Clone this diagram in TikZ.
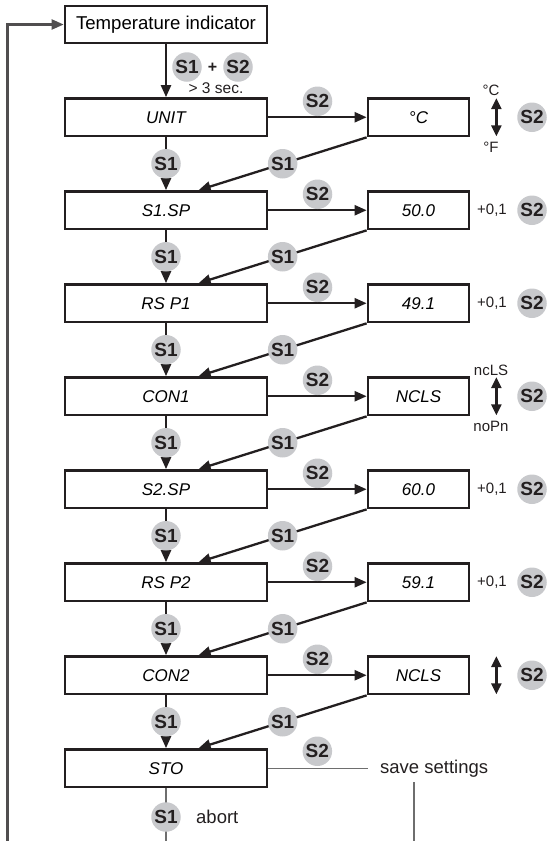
\documentclass[tikz,border=0pt]{standalone}
\usepackage{fontspec}
\setmainfont{Liberation Sans}
\usetikzlibrary{arrows.meta,calc}
\definecolor{ink}{HTML}{231F20}
\definecolor{btn}{HTML}{C8C9CC}
\definecolor{thin}{HTML}{6E6E6E}
\tikzset{
  mainbox/.style={draw=ink,line width=2.7pt,minimum width=202pt,minimum height=37.5pt,inner sep=0pt,
    font=\fontsize{17}{18}\selectfont\itshape},
  rbox/.style={mainbox,minimum width=101pt},
  tempbox/.style={draw=ink,line width=2.7pt,minimum width=202pt,minimum height=37pt,inner sep=0pt,
    font=\fontsize{18.6}{21}\selectfont},
  scirc/.style={circle,fill=btn,minimum size=29.5pt,inner sep=0pt,text=ink,
    font=\fontsize{19}{20}\selectfont\bfseries},
  arr/.style={draw=ink,line width=2.3pt,-{Triangle[length=12pt,width=10pt]}},
  dbl/.style={draw=ink,line width=2.3pt,{Triangle[length=11pt,width=10pt]}-{Triangle[length=11pt,width=10pt]}},
  thinline/.style={draw=thin,line width=1.4pt},
  leftline/.style={draw=thin!60!ink,line width=2.2pt,-{Triangle[length=12pt,width=10pt]}},
  lbl/.style={inner sep=0pt,text=ink,font=\fontsize{15}{17}\selectfont},
  biglbl/.style={inner sep=0pt,text=ink,font=\fontsize{18.5}{20}\selectfont},
}
\begin{document}
\begin{tikzpicture}[x=1pt,y=-1pt]
\useasboundingbox (0,0) rectangle (548,841);
% top indicator
\node[tempbox] (temp) at (166,24.5) {Temperature indicator};
% main column
\foreach \t [count=\i from 0] in {UNIT,S1.SP,RS P1,CON1,S2.SP,RS P2,CON2,STO}
  \node[mainbox] (m\i) at (166,{117.25+93*\i}) {\t};
% right column
\foreach \t [count=\i from 0] in {°C,50.0,49.1,NCLS,60.0,59.1,NCLS}
  \node[rbox] (r\i) at (418.5,{117.25+93*\i}) {\t};
% temp -> UNIT
\draw[arr] (temp) -- (m0);
\node[scirc] (a1) at (187,67) {S1};
\node[scirc] (a2) at (238,67) {S2};
\node[inner sep=0pt,text=ink,font=\fontsize{16}{18}\selectfont\bfseries] (plus) at (212.5,68) {+};
\node[inner sep=0pt,text=ink,font=\fontsize{15.5}{17}\selectfont] (sec) at (216,88) {> 3 sec.};
% vertical S1 arrows, S2 arrows, diagonal S1 returns
\foreach \k [evaluate=\k as \n using int(\k+1)] in {0,...,6} {
  \draw[arr] (m\k) -- (m\n) node[scirc,midway] (v\k) {S1};
  \draw[arr] (m\k) -- (r\k);
  \node[scirc] (h\k) at ($(m\k.east)!0.5!(r\k.west)+(0,-16)$) {S2};
  \draw[arr] (r\k.south west) -- ($(m\n.north west)+(135,0)$) node[scirc,midway] (d\k) {S1};
  \node[scirc] (rs\k) at ($(r\k.center)+(113.5,0)$) {S2};
}
% +0,1 labels
\foreach \k in {1,2,4,5}
  \node[lbl] (p\k) at ($(r\k.center)+(73.5,0)$) {+0,1};
% double arrows
\foreach \k in {0,3,6} {
  \coordinate (ua\k) at ($(r\k.north east)+(26,1)$);
  \coordinate (da\k) at ($(r\k.south east)+(26,-1)$);
  \draw[dbl] (ua\k) -- (da\k);
}
\node[lbl] (degC) at (491,90) {°C};
\node[lbl] (degF) at (491,147) {°F};
\node[lbl] (ncls) at (491,370) {ncLS};
\node[lbl] (nopn) at (491,426) {noPn};
% STO row
\node[scirc] (h7) at ($(m7.east)+(49,-17)$) {S2};
\node[biglbl,anchor=west] (save) at (380,768.25) {save settings};
\coordinate (se) at (368,768.25);
\draw[thinline] (m7.east) -- (se);
\coordinate (sb) at (414,841);
\draw[thinline] ([yshift=-5pt]save.south -| sb) -- (sb);
\coordinate (bb) at (166,841);
\draw[thinline] (m7) -- (bb);
\node[scirc] (abs1) at (166,817) {S1};
\node[biglbl,anchor=west] (abort) at (196,817) {abort};
% left feedback line
\coordinate (lb) at (7.5,841);
\draw[leftline] (lb) |- (temp.west);
\end{tikzpicture}
\end{document}
